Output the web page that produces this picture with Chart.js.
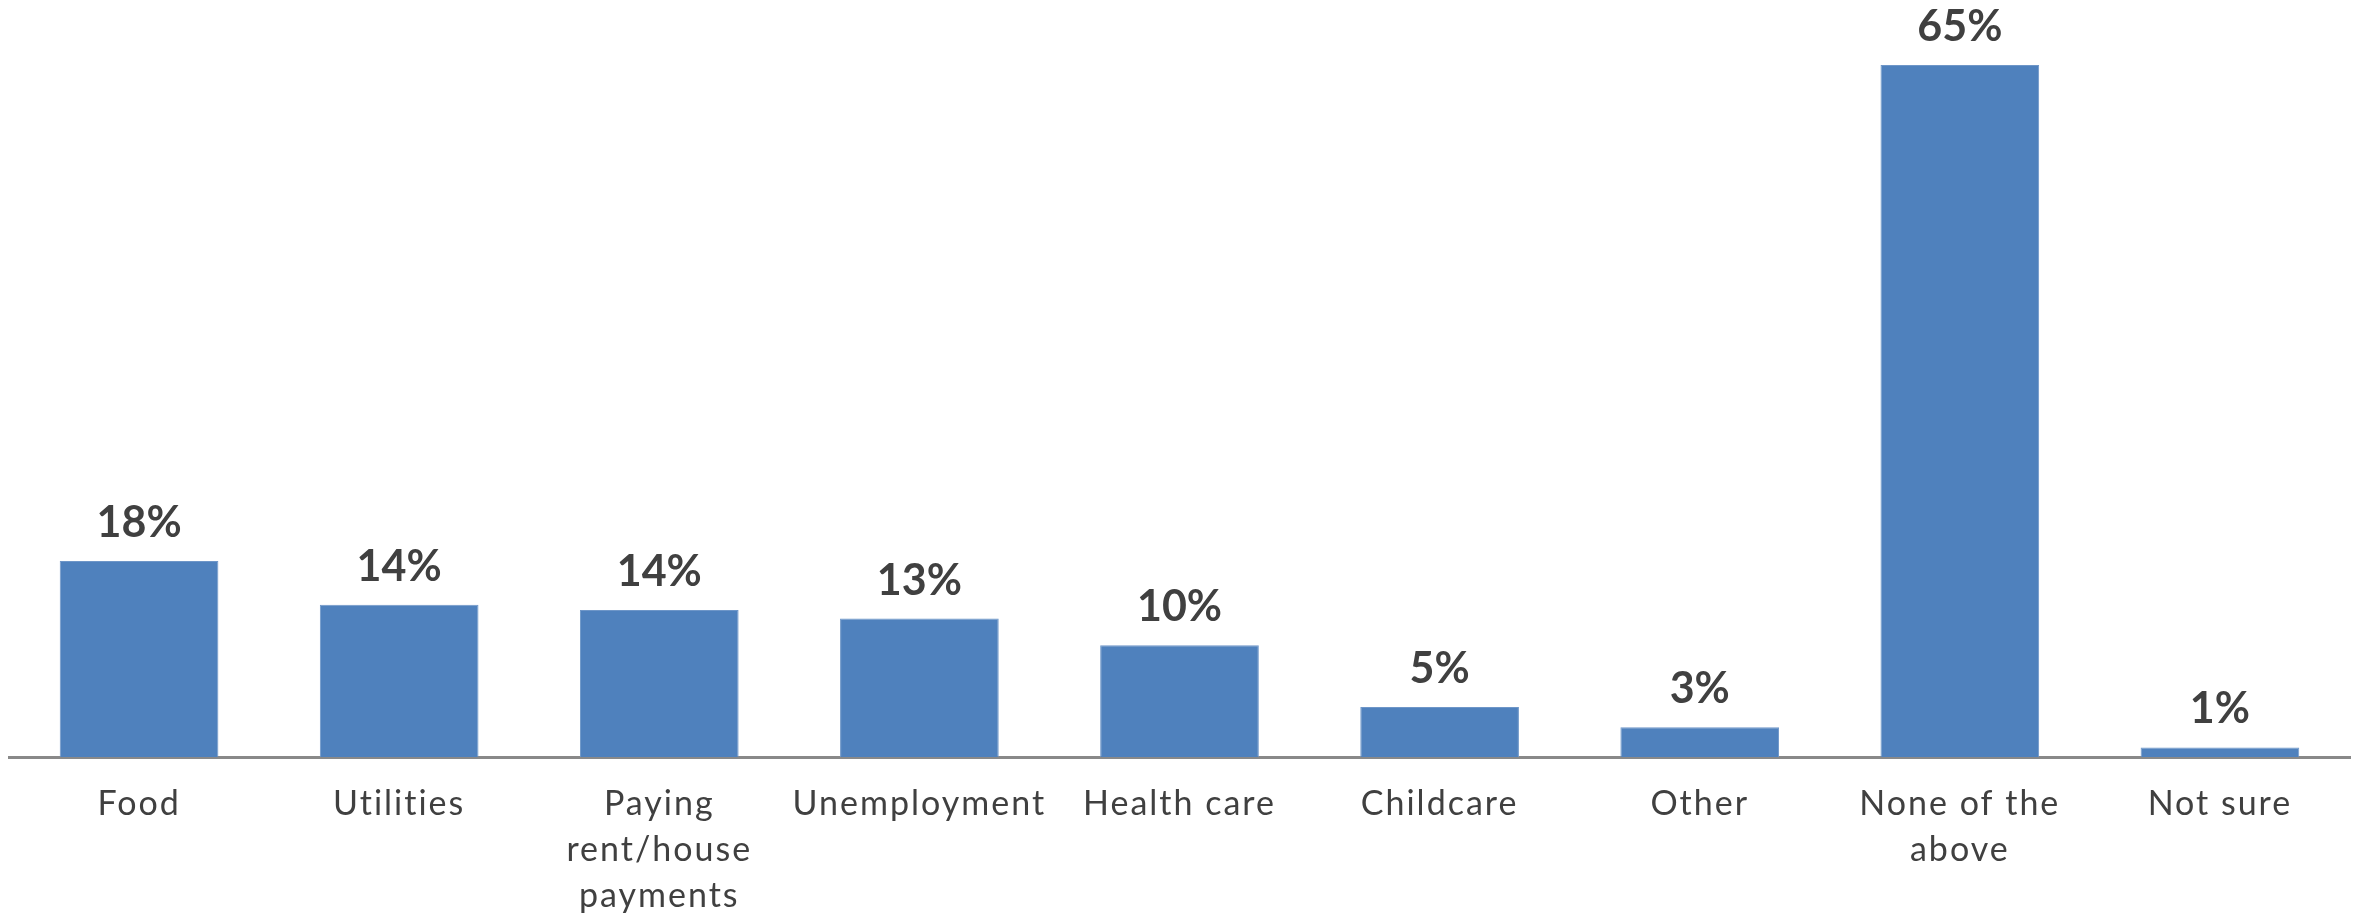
<!DOCTYPE html>
<html>
<head>
<meta charset="utf-8">
<script src="https://cdn.jsdelivr.net/npm/chart.js@4/dist/chart.umd.min.js"></script>
<style>
  html, body { margin: 0; padding: 0; background: #ffffff; }
  #wrap { width: 2361px; height: 916px; position: relative; }
</style>
</head>
<body>
<div id="wrap"><canvas id="c" width="2361" height="916"></canvas></div>
<script>
const categories = [
  "Food",
  "Utilities",
  ["Paying", "rent/house", "payments"],
  "Unemployment",
  "Health care",
  "Childcare",
  "Other",
  ["None of the", "above"],
  "Not sure"
];
const values = [18.4, 14.3, 13.8, 13.0, 10.5, 4.7, 2.8, 65.0, 0.9];
const valueLabels = ["18%", "14%", "14%", "13%", "10%", "5%", "3%", "65%", "1%"];

const spacingPlugin = {
  id: 'spacing',
  beforeDraw(chart) {
    chart.ctx.letterSpacing = '2px';
  }
};

const labelPlugin = {
  id: 'valueLabels',
  afterDatasetsDraw(chart) {
    const ctx = chart.ctx;
    const meta = chart.getDatasetMeta(0);
    ctx.save();
    ctx.letterSpacing = '0px';
    ctx.font = 'bold 43px Lato, "DejaVu Sans", sans-serif';
    ctx.fillStyle = '#404040';
    ctx.textAlign = 'center';
    ctx.textBaseline = 'alphabetic';
    meta.data.forEach((bar, i) => {
      ctx.fillText(valueLabels[i], bar.x, bar.y - 24);
    });
    ctx.restore();
  }
};

new Chart(document.getElementById('c'), {
  type: 'bar',
  data: {
    labels: categories,
    datasets: [{
      data: values,
      backgroundColor: '#4F81BD',
      borderColor: '#6E96C8',
      borderWidth: 1,
      categoryPercentage: 1.0,
      barPercentage: 0.61
    }]
  },
  options: {
    responsive: false,
    animation: false,
    layout: { padding: { left: 9, right: 11, top: 0, bottom: 0 } },
    plugins: { legend: { display: false }, tooltip: { enabled: false } },
    scales: {
      x: {
        grid: { display: false },
        border: { display: true, color: '#898989', width: 3 },
        ticks: {
          color: '#404040',
          font: { family: 'Lato, "DejaVu Sans", sans-serif', size: 34, lineHeight: 1.35 },
          padding: 16,
          maxRotation: 0,
          autoSkip: false
        },
        afterFit(scale) { scale.height = 159; }
      },
      y: {
        display: false,
        min: 0,
        max: 71.1
      }
    }
  },
  plugins: [spacingPlugin, labelPlugin]
});
</script>
</body>
</html>
